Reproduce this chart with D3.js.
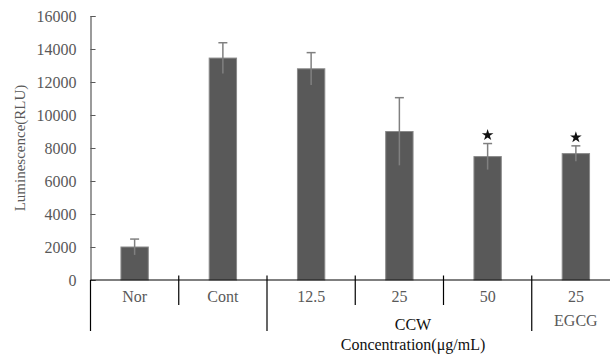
<!DOCTYPE html>
<html>
<head>
<meta charset="utf-8">
<script src="https://cdn.jsdelivr.net/npm/d3@7"></script>
<style>
    body { margin: 0; background: #fff; }
    svg text { font-family: 'Liberation Serif', 'Times New Roman', serif; }
</style>
</head>
<body>
<svg id="chart"></svg>
<script>
// Data
const categories = ['Nor', 'Cont', '12.5', '25', '50', '25'];
const means = [2000, 13450, 12800, 9000, 7480, 7660];
const errors = [480, 930, 980, 2050, 790, 470];
const significant = [false, false, false, false, true, true];
const yTicks = [0, 2000, 4000, 6000, 8000, 10000, 12000, 14000, 16000];
// group labels under the categories: [first index, last index, label]
const groups = [[2, 4, 'CCW'], [5, 5, 'EGCG']];
// separators below the axis: index of boundary and whether it is long
const longBoundaries = [0, 2, 5];

const width = 610, height = 357;
const margin = {top: 16, right: -10, bottom: 77, left: 90.5};

const svg = d3.select('#chart')
    .attr('width', width)
    .attr('height', height);

const xScale = d3.scaleBand()
    .domain(d3.range(categories.length))
    .range([margin.left, width - margin.right])
    .padding(0);

const yScale = d3.scaleLinear()
    .domain([0, 16000])
    .range([height - margin.bottom, margin.top]);

const grey = '#595959';
const y0 = yScale(0);
const barW = xScale.bandwidth() * 0.31;

// Y axis
const yAxis = svg.append('g')
    .attr('transform', `translate(${margin.left},0)`)
    .call(d3.axisLeft(yScale).tickValues(yTicks).tickSize(-5).tickPadding(14).tickFormat(d3.format('d')));
yAxis.select('.domain').attr('stroke', grey).attr('stroke-width', 1.2);
yAxis.selectAll('line').attr('stroke', grey);
yAxis.selectAll('text')
    .attr('fill', grey)
    .style('font-size', '16px')
    .style('font-family', "'Liberation Serif', serif");

// extend the y axis line below the x axis
svg.append('line')
    .attr('x1', margin.left).attr('x2', margin.left)
    .attr('y1', y0).attr('y2', 331)
    .attr('stroke', '#000').attr('stroke-width', 1.2);

// Y title
svg.append('text')
    .attr('transform', `translate(25,${(yScale(0) + yScale(16000)) / 2}) rotate(-90)`)
    .attr('text-anchor', 'middle')
    .attr('fill', grey)
    .style('font-size', '15px')
    .text('Luminescence(RLU)');

// Bars
svg.selectAll('.bar')
    .data(means)
    .enter()
    .append('rect')
    .attr('class', 'bar')
    .attr('x', (d, i) => xScale(i) + (xScale.bandwidth() - barW) / 2)
    .attr('y', d => yScale(d))
    .attr('width', barW)
    .attr('height', d => y0 - yScale(d))
    .attr('fill', grey)
    .attr('stroke', '#8a8a8a')
    .attr('stroke-width', 1);

// Error bars
const cx = i => xScale(i) + xScale.bandwidth() / 2;
svg.selectAll('.err')
    .data(means)
    .enter()
    .append('line')
    .attr('class', 'err')
    .attr('x1', (d, i) => cx(i)).attr('x2', (d, i) => cx(i))
    .attr('y1', (d, i) => yScale(d - errors[i]))
    .attr('y2', (d, i) => yScale(d + errors[i]))
    .attr('stroke', '#808080')
    .attr('stroke-width', 1.5);

svg.selectAll('.cap')
    .data(means)
    .enter()
    .append('line')
    .attr('class', 'cap')
    .attr('x1', (d, i) => cx(i) - 4.5).attr('x2', (d, i) => cx(i) + 4.5)
    .attr('y1', (d, i) => yScale(d + errors[i]))
    .attr('y2', (d, i) => yScale(d + errors[i]))
    .attr('stroke', '#808080')
    .attr('stroke-width', 1.5);

// Significance stars
svg.selectAll('.star')
    .data(means.map((d, i) => ({d, i})).filter(o => significant[o.i]))
    .enter()
    .append('path')
    .attr('class', 'star')
    .attr('d', d3.symbol(d3.symbolStar, 42))
    .attr('transform', o => `translate(${cx(o.i)},${yScale(o.d + errors[o.i]) - 8.5})`)
    .attr('fill', '#111');

// X axis line
svg.append('line')
    .attr('x1', margin.left).attr('x2', width)
    .attr('y1', y0).attr('y2', y0)
    .attr('stroke', '#000').attr('stroke-width', 1.2);

// Separators below the axis
svg.selectAll('.sep')
    .data(d3.range(1, categories.length))
    .enter()
    .append('line')
    .attr('class', 'sep')
    .attr('x1', i => xScale(i)).attr('x2', i => xScale(i))
    .attr('y1', y0 - 4.5)
    .attr('y2', i => longBoundaries.includes(i) ? 331 : 305)
    .attr('stroke', '#000')
    .attr('stroke-width', 1.2);

// Category labels
svg.selectAll('.cat')
    .data(categories)
    .enter()
    .append('text')
    .attr('class', 'cat')
    .attr('x', (d, i) => cx(i))
    .attr('y', 301.5)
    .attr('text-anchor', 'middle')
    .attr('fill', grey)
    .style('font-size', '16px')
    .text(d => d);

// Group labels
svg.selectAll('.grp')
    .data(groups)
    .enter()
    .append('text')
    .attr('class', 'grp')
    .attr('x', g => g[2] === 'CCW' ? 413 : (cx(g[0]) + cx(g[1])) / 2)
    .attr('y', g => g[2] === 'CCW' ? 330 : 326)
    .attr('text-anchor', 'middle')
    .attr('fill', g => g[2] === 'CCW' ? '#111' : grey)
    .style('font-size', '16px')
    .text(g => g[2]);

// X title
svg.append('text')
    .attr('x', 413)
    .attr('y', 350)
    .attr('text-anchor', 'middle')
    .attr('fill', '#111')
    .style('font-size', '16px')
    .text('Concentration(\u03bcg/mL)');
</script>
</body>
</html>
